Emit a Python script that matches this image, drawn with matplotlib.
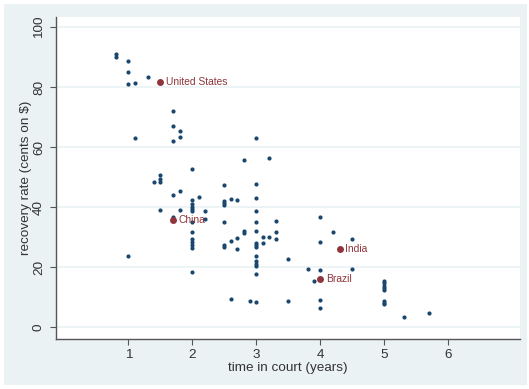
import matplotlib
matplotlib.use('Agg')
import matplotlib.pyplot as plt
from matplotlib.patches import Rectangle

plt.rcParams['font.family'] = ['Liberation Sans', 'DejaVu Sans']

#blue points (time in court, recovery rate)
time_years = [0.8, 0.8,
              1.0, 1.0, 1.0, 1.0,
              1.1, 1.1,
              1.3,
              1.4,
              1.5, 1.5, 1.5, 1.5,
              1.7, 1.7, 1.7, 1.7, 1.7,
              1.8, 1.8, 1.8, 1.8,
              2.0, 2.0, 2.0, 2.0, 2.0, 2.0, 2.0, 2.0, 2.0, 2.0, 2.0, 2.0, 2.0,
              2.1,
              2.2, 2.2,
              2.5, 2.5, 2.5, 2.5, 2.5, 2.5, 2.5,
              2.6, 2.6, 2.6,
              2.7, 2.7, 2.7,
              2.8, 2.8, 2.8,
              2.9,
              3.0, 3.0, 3.0, 3.0, 3.0, 3.0, 3.0, 3.0, 3.0, 3.0, 3.0, 3.0, 3.0, 3.0, 3.0,
              3.1, 3.1,
              3.2, 3.2,
              3.3, 3.3, 3.3,
              3.5, 3.5,
              3.8,
              3.9,
              4.0, 4.0, 4.0, 4.0, 4.0,
              4.2,
              4.5, 4.5,
              5.0, 5.0, 5.0, 5.0, 5.0, 5.0, 5.0, 5.0,
              5.3,
              5.7]
recovery = [91.0, 90.0,
            88.9, 85.2, 81.1, 23.9,
            81.5, 63.2,
            83.3,
            48.3,
            50.8, 49.3, 48.3, 39.0,
            72.2, 67.1, 62.1, 44.0, 36.9,
            65.4, 63.5, 45.3, 39.2,
            52.7, 42.4, 41.0, 40.0, 39.3, 38.6, 35.0, 31.7, 29.3, 28.4, 27.5, 26.3, 18.3,
            43.4,
            38.9, 36.0,
            47.3, 42.1, 41.3, 40.7, 35.1, 27.4, 26.8,
            42.8, 28.7, 9.3,
            42.4, 29.8, 26.1,
            55.7, 32.2, 31.3,
            8.6,
            63.2, 47.6, 43.1, 38.7, 35.2, 32.2, 28.0, 27.4, 26.9, 23.6, 22.0, 21.2, 20.5, 17.7, 8.4,
            30.1, 28.2,
            56.5, 30.2,
            35.4, 31.9, 29.3,
            22.6, 8.6,
            19.4,
            15.5,
            36.7, 28.5, 19.0, 9.2, 6.4,
            31.8,
            29.4, 19.4,
            15.4, 14.7, 13.9, 13.1, 12.4, 8.9, 8.2, 7.8,
            3.3,
            4.9]

#highlighted countries
countries = ['United States', 'China', 'India', 'Brazil']
country_time = [1.5, 1.7, 4.3, 4.0]
country_recovery = [81.9, 35.6, 26.0, 16.0]

xticks = [1, 2, 3, 4, 5, 6]
yticks = [0, 20, 40, 60, 80, 100]

navy = '#1a476f'
maroon = '#90353b'
bluegray = '#eaf2f3'

fig = plt.figure(figsize=(5.29, 3.89), dpi=100)
fig.patch.set_facecolor('white')
# stata style graph region, behind the axes
fig.patches.append(Rectangle((4/529, 4/389), 523/529, 381/389, transform=fig.transFigure,
                             facecolor=bluegray, edgecolor='none', zorder=-10))

ax = fig.add_axes([56/529, 50/389, 464/529, 322/389])
ax.set_zorder(1)
ax.set_facecolor('white')

for yv in yticks:
    ax.axhline(yv, color=bluegray, lw=1.2, zorder=1)

ax.plot(time_years, recovery, 'o', color=navy, markersize=3.0, markeredgewidth=0, zorder=3)
ax.plot(country_time, country_recovery, 'o', color=maroon, markersize=5.0, markeredgewidth=0, zorder=4)
for name, xv, yv in zip(countries, country_time, country_recovery):
    ax.annotate(name, (xv, yv), xytext=(4, 0), textcoords='offset points',
                va='center', ha='left', color=maroon, fontsize=7.4, zorder=5)

ax.set_xlim(-0.13, 7.12)
ax.set_ylim(-3.9, 103.4)
ax.set_xticks(xticks)
ax.set_yticks(yticks)
ax.set_yticklabels([str(v) for v in yticks], rotation=90, va='center')

for s in ['top', 'right']:
    ax.spines[s].set_visible(False)
for s in ['left', 'bottom']:
    ax.spines[s].set_color('#555555')
    ax.spines[s].set_linewidth(1.0)
ax.tick_params(axis='both', length=4, width=0.8, color='#555555', labelcolor='#333333',
               labelsize=9.7)
ax.tick_params(axis='y', pad=4)
ax.tick_params(axis='x', pad=3)

ax.set_xlabel('time in court (years)', fontsize=9.7, color='#333333')
ax.set_ylabel('recovery rate (cents on $)', fontsize=9.7, color='#333333')
ax.xaxis.set_label_coords(0.5, -0.09)
ax.xaxis.label.set_va('center')
ax.yaxis.set_label_coords(-0.065, 0.5)
ax.yaxis.label.set_va('center')

plt.savefig('out.png', dpi=100, facecolor=fig.get_facecolor())
